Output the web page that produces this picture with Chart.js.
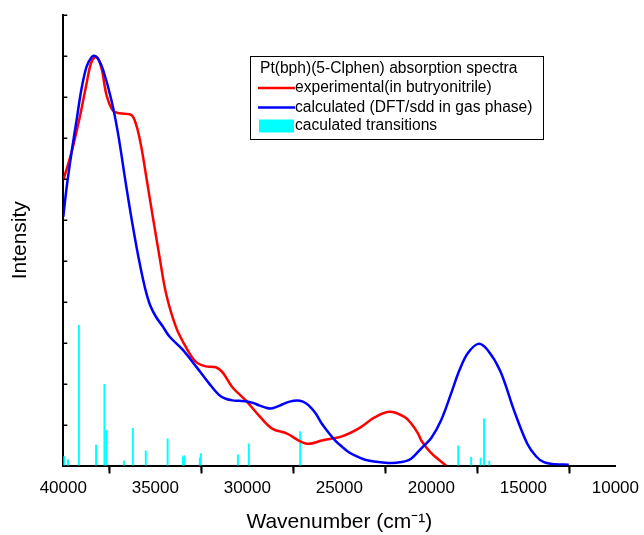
<!DOCTYPE html>
<html>
<head>
<meta charset="utf-8">
<script src="https://cdn.jsdelivr.net/npm/chart.js@4.4.0/dist/chart.umd.min.js"></script>
<style>
    body { margin: 0; background: #fff; }
    #spectra { display: block; }
</style>
</head>
<body>
<canvas id="spectra" width="644" height="535"></canvas>
<script>
// Experimental spectrum (wavenumber in cm-1, intensity)
const expWavenumber = [40000, 39546, 39097, 38735, 38465, 38195, 37925, 37654, 37298, 36935,
    36303, 36033, 35762, 35492, 35136, 34773, 34416, 33876, 33336, 32796,
    32256, 31716, 31352, 30812, 30087, 29368, 28649, 27839, 27206, 26666,
    25947, 24866, 23963, 23061, 22250, 21440, 21084, 20720, 20544, 20001, 19200];
const expIntensity = [6.97, 7.66, 8.52, 9.33, 9.86, 9.98, 9.70, 9.05, 8.66, 8.60,
    8.56, 8.31, 7.78, 7.05, 6.07, 5.10, 4.20, 3.38, 2.89, 2.53,
    2.42, 2.40, 2.28, 1.91, 1.59, 1.22, 0.90, 0.78, 0.61, 0.53,
    0.61, 0.71, 0.90, 1.18, 1.31, 1.18, 1.02, 0.78, 0.61, 0.30, 0.0];

// Calculated spectrum
const calcWavenumber = [40000, 39816, 39546, 39276, 39005, 38735, 38465, 38287, 38100, 37838,
    37384, 37027, 36573, 36217, 35856, 35540, 35270, 34950, 34600, 34233,
    33514, 32790, 32071, 31530, 31170, 30812, 30450, 30087, 29700, 29368,
    29050, 28736, 28420, 28109, 27700, 27298, 26980, 26666, 26300, 25947,
    25580, 25223, 24860, 24504, 24050, 23601, 23000, 22342, 21900, 21440,
    21084, 20544, 20004, 19464, 18924, 18470, 18022, 17450, 16942, 16250,
    15504, 14786, 14300, 13884, 13300, 12529];
const calcIntensity = [6.07, 6.80, 7.66, 8.44, 9.21, 9.74, 9.97, 10.0, 9.92, 9.66,
    8.92, 8.11, 6.80, 5.83, 4.95, 4.30, 3.90, 3.62, 3.40, 3.15,
    2.83, 2.42, 2.00, 1.72, 1.63, 1.59, 1.58, 1.57, 1.53, 1.47,
    1.42, 1.39, 1.43, 1.49, 1.56, 1.59, 1.56, 1.47, 1.28, 1.02,
    0.80, 0.61, 0.46, 0.33, 0.22, 0.14, 0.09, 0.06, 0.07, 0.10,
    0.17, 0.42, 0.67, 1.11, 1.76, 2.33, 2.74, 2.97, 2.82, 2.30,
    1.34, 0.53, 0.22, 0.08, 0.03, 0.02];

// Calculated transitions (stick spectrum)
const transWavenumber = [39960, 39746, 39152, 38218, 37764, 37656, 36706, 36220, 35518, 34330,
    33498, 33428, 32580, 32526, 30512, 29918, 27126, 18540, 17838, 17320, 17136, 16850];
const transStrength = [0.22, 0.14, 3.42, 0.50, 1.98, 0.85, 0.11, 0.91, 0.36, 0.65,
    0.21, 0.24, 0.19, 0.29, 0.26, 0.53, 0.83, 0.48, 0.20, 0.18, 1.14, 0.11];

// Axis ticks
const xTickValues = [40000, 35000, 30000, 25000, 20000, 15000, 10000];
const xMinorTickValues = [37500, 32500, 27500, 22500, 17500, 12500];

const legendTitle = "Pt(bph)(5-Clphen) absorption spectra";
const seriesNames = ["experimental(in butryonitrile)", "calculated (DFT/sdd in gas phase)", "caculated transitions"];

const toPoints = (xs, ys) => xs.map((x, i) => ({ x: x, y: ys[i] }));

// Inward y ticks, minor x ticks and the boxed legend
const extrasPlugin = {
    id: "extras",
    afterDraw(chart) {
        const ctx = chart.ctx;
        const xScale = chart.scales.x;
        const yScale = chart.scales.y;
        const area = chart.chartArea;
        ctx.save();
        ctx.strokeStyle = "#000";
        ctx.lineWidth = 1.5;
        yScale.ticks.forEach(t => {
            if (t.value === 0) return;
            const y = Math.round(yScale.getPixelForValue(t.value)) + 0.25;
            ctx.beginPath();
            ctx.moveTo(area.left, y);
            ctx.lineTo(area.left + 4, y);
            ctx.stroke();
        });
        xMinorTickValues.forEach(v => {
            const x = xScale.getPixelForValue(v);
            ctx.beginPath();
            ctx.moveTo(x, area.bottom);
            ctx.lineTo(x, area.bottom + 5);
            ctx.stroke();
        });

        // legend box
        ctx.lineWidth = 1;
        ctx.strokeRect(250.5, 56.5, 293, 83);
        ctx.font = "15.6px 'Liberation Sans', Arial, sans-serif";
        ctx.fillStyle = "#000";
        ctx.textBaseline = "middle";
        ctx.fillText(legendTitle, 260, 69);
        const rows = [88, 107.5, 126];
        ctx.lineWidth = 2.5;
        ctx.strokeStyle = "#ff0000";
        ctx.beginPath(); ctx.moveTo(258, rows[0]); ctx.lineTo(295, rows[0]); ctx.stroke();
        ctx.strokeStyle = "#0000ff";
        ctx.beginPath(); ctx.moveTo(258, rows[1]); ctx.lineTo(295, rows[1]); ctx.stroke();
        ctx.fillStyle = "#00ffff";
        ctx.fillRect(259, 119.5, 35, 13);
        ctx.fillStyle = "#000";
        seriesNames.forEach((name, i) => ctx.fillText(name, 295, rows[i]));
        ctx.restore();
    }
};

const chart = new Chart(document.getElementById("spectra"), {
    type: "line",
    data: {
        datasets: [{
            type: "bar",
            label: seriesNames[2],
            data: toPoints(transWavenumber, transStrength),
            backgroundColor: "#00ffff",
            barThickness: 1.3,
            order: 3
        }, {
            label: seriesNames[0],
            data: toPoints(expWavenumber, expIntensity),
            borderColor: "#ff0000",
            borderWidth: 2.5,
            pointRadius: 0,
            tension: 0.35,
            fill: false,
            order: 2
        }, {
            label: seriesNames[1],
            data: toPoints(calcWavenumber, calcIntensity),
            borderColor: "#0000ff",
            borderWidth: 2.5,
            pointRadius: 0,
            tension: 0.35,
            fill: false,
            order: 1
        }]
    },
    options: {
        responsive: false,
        animation: false,
        devicePixelRatio: 1,
        layout: { padding: { left: 0, right: 25.5, top: 15, bottom: 0 } },
        plugins: { legend: { display: false }, tooltip: { enabled: false } },
        scales: {
            x: {
                type: "linear",
                reverse: true,
                min: 10000,
                max: 40000,
                offset: false,
                afterBuildTicks: s => { s.ticks = xTickValues.map(v => ({ value: v })); },
                afterFit: s => { s.height = 69.5; },
                grid: { drawOnChartArea: false, tickLength: 8, tickWidth: 2, tickColor: "#000" },
                border: { color: "#000", width: 2 },
                ticks: {
                    color: "#000",
                    padding: 5,
                    maxRotation: 0,
                    font: { family: "'Liberation Sans', Arial, sans-serif", size: 17 },
                    callback: v => String(v)
                },
                title: {
                    display: true,
                    text: "Wavenumber (cm\u207B\u00B9)",
                    color: "#000",
                    padding: { top: 0, bottom: 0 },
                    font: { family: "'Liberation Sans', Arial, sans-serif", size: 21 }
                }
            },
            y: {
                min: 0,
                max: 11,
                ticks: { stepSize: 1, display: false },
                afterFit: s => { s.width = 63.3; },
                grid: { display: false },
                border: { color: "#000", width: 2 },
                title: {
                    display: true,
                    text: "Intensity",
                    color: "#000",
                    padding: { top: 8, bottom: 0 },
                    font: { family: "'Liberation Sans', Arial, sans-serif", size: 21 }
                }
            }
        }
    },
    plugins: [extrasPlugin]
});
</script>
</body>
</html>
